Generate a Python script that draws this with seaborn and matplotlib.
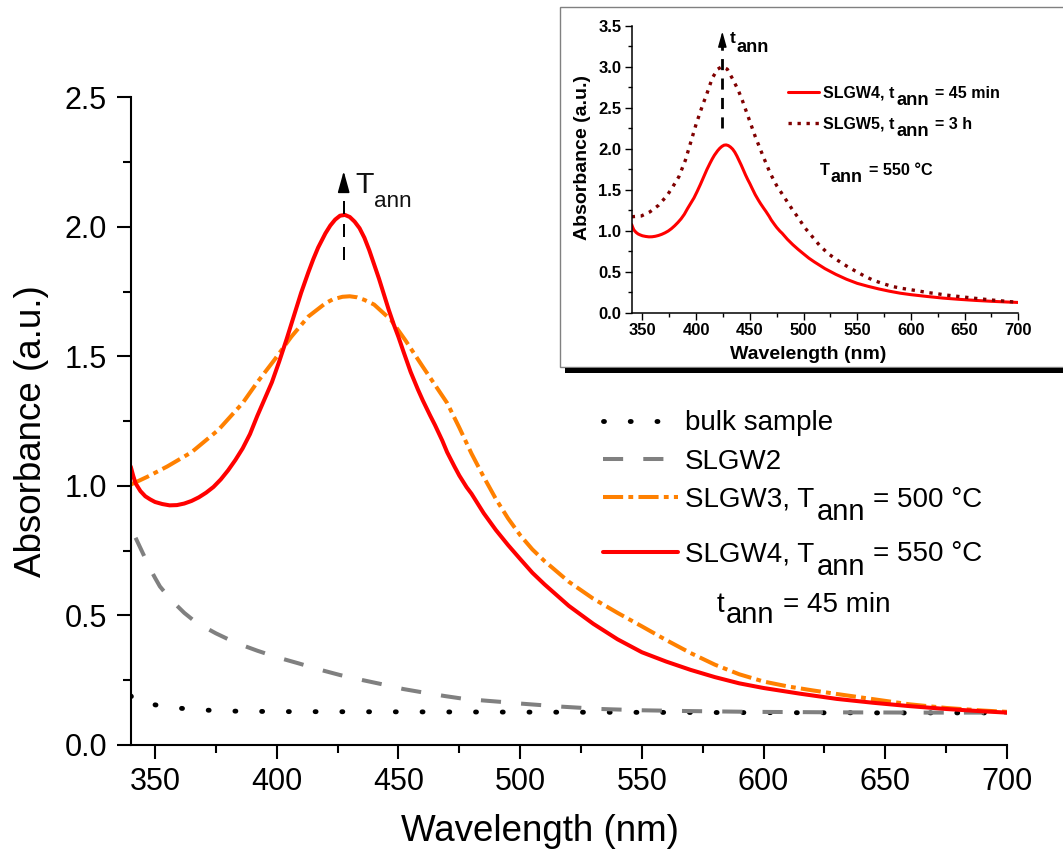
import matplotlib
matplotlib.use("Agg")
import numpy as np
import pandas as pd
import matplotlib.pyplot as plt
import seaborn as sns
from matplotlib.ticker import MultipleLocator, FormatStrFormatter
from matplotlib.patches import Rectangle
from matplotlib.transforms import IdentityTransform

# ---------------- data ----------------
bulk_x = [340, 342, 345, 350, 355, 360, 370, 380, 400, 450, 500, 550, 600, 650, 700]
bulk_y = [0.19, 0.172, 0.163, 0.155, 0.148, 0.142, 0.135, 0.131, 0.129, 0.128, 0.127, 0.126, 0.125, 0.124, 0.124]

slgw2_x = [342, 344, 346, 348, 350, 352, 355, 358, 362, 367, 375, 383, 392, 400, 409, 418, 426,
           435, 443, 452, 460, 469, 477, 486, 494, 500, 517, 533, 550, 569, 595, 631, 667, 700]
slgw2_y = [0.80, 0.76, 0.72, 0.68, 0.645, 0.612, 0.578, 0.547, 0.51, 0.472, 0.431, 0.395, 0.364,
           0.339, 0.315, 0.29, 0.27, 0.251, 0.235, 0.216, 0.203, 0.189, 0.178, 0.171, 0.165,
           0.16, 0.148, 0.139, 0.134, 0.131, 0.128, 0.126, 0.125, 0.125]

slgw3_x = [340, 347, 355, 365, 376, 386, 392, 399, 406, 413, 420, 423, 427, 430, 433, 436, 440,
           447, 453, 460, 465, 470, 475, 480, 485, 490, 495, 500, 505, 510, 520, 530, 540, 550,
           560, 570, 580, 590, 600, 610, 620, 630, 645, 660, 675, 690, 700]
slgw3_y = [1.005, 1.036, 1.075, 1.13, 1.216, 1.32, 1.40, 1.486, 1.576, 1.654, 1.705, 1.72, 1.73,
           1.732, 1.728, 1.718, 1.70, 1.64, 1.56, 1.46, 1.39, 1.32, 1.225, 1.125, 1.035, 0.95,
           0.875, 0.81, 0.755, 0.71, 0.63, 0.565, 0.51, 0.458, 0.405, 0.355, 0.31, 0.273, 0.245,
           0.226, 0.211, 0.197, 0.177, 0.157, 0.143, 0.133, 0.128]

slgw4_x = [340, 341, 342, 344, 346, 348, 350, 353, 356, 359, 362, 365, 368, 371, 374, 377, 380,
           383, 386, 389, 392, 395, 398, 401, 404, 407, 410, 413, 415, 417, 420, 422, 424, 426,
           428, 430, 432, 434, 436, 438, 440, 442, 444, 446, 448, 450, 452, 455, 458, 460, 463,
           465, 468, 470, 473, 475, 478, 480, 485, 490, 495, 500, 505, 510, 520, 530, 540, 550,
           560, 570, 580, 590, 600, 615, 630, 645, 660, 675, 690, 700]
slgw4_y = [1.075, 1.04, 1.01, 0.98, 0.96, 0.948, 0.938, 0.93, 0.925, 0.926, 0.932, 0.942, 0.956,
           0.974, 0.996, 1.025, 1.06, 1.10, 1.145, 1.20, 1.27, 1.335, 1.40, 1.48, 1.565, 1.655,
           1.745, 1.825, 1.875, 1.92, 1.975, 2.005, 2.028, 2.043, 2.046, 2.038, 2.02, 1.995,
           1.958, 1.91, 1.855, 1.80, 1.74, 1.68, 1.625, 1.575, 1.52, 1.44, 1.372, 1.33, 1.272,
           1.235, 1.175, 1.13, 1.075, 1.04, 0.995, 0.97, 0.895, 0.83, 0.772, 0.718, 0.665, 0.62,
           0.537, 0.468, 0.408, 0.358, 0.322, 0.29, 0.262, 0.238, 0.22, 0.198, 0.178, 0.163,
           0.150, 0.139, 0.130, 0.125]

slgw5_x = [340, 349, 357, 365, 373, 378, 384, 390, 395, 400, 406, 410, 415, 420, 424, 429, 434,
           439, 443, 449, 455, 462, 469, 475, 480, 485, 490, 495, 501, 508, 515, 523, 531, 540,
           548, 557, 565, 574, 582, 591, 600, 608, 616, 625, 633, 641, 650, 658, 667, 675, 683,
           692, 700]
slgw5_y = [1.17, 1.18, 1.23, 1.31, 1.43, 1.53, 1.66, 1.86, 2.08, 2.30, 2.53, 2.67, 2.86, 2.97,
           3.00, 2.97, 2.85, 2.72, 2.59, 2.37, 2.15, 1.92, 1.70, 1.55, 1.45, 1.35, 1.25, 1.16,
           1.04, 0.93, 0.82, 0.72, 0.645, 0.57, 0.51, 0.445, 0.395, 0.355, 0.322, 0.298, 0.28,
           0.263, 0.245, 0.23, 0.215, 0.203, 0.19, 0.178, 0.166, 0.155, 0.146, 0.135, 0.127]

main_xticks = [350, 400, 450, 500, 550, 600, 650, 700]

# annotation anchors (data units)
T_arrow_x, T_dash_y0, T_dash_y1, T_head_y = 427.5, 1.873, 2.14, 2.215
t_arrow_x, t_dash_y0, t_dash_y1, t_head_y = 424.4, 2.25, 3.25, 3.43

# ---------------- style ----------------
sns.set_style("ticks")
plt.rcParams["font.family"] = ["Liberation Sans", "DejaVu Sans"]
plt.rcParams["axes.edgecolor"] = "black"
plt.rcParams["xtick.color"] = "black"
plt.rcParams["ytick.color"] = "black"
plt.rcParams["text.color"] = "black"
plt.rcParams["axes.labelcolor"] = "black"

W, H = 1063, 851
fig = plt.figure(figsize=(W / 100, H / 100), dpi=100)
fig.patch.set_facecolor("white")


def fx(px):
    return px / W


def fy(py):
    return 1 - py / H


# ---------------- main axes ----------------
ax = fig.add_axes([fx(130.7), fy(745), (1007 - 130.7) / W, (745 - 97.3) / H])
ax.set_zorder(0)

sns.lineplot(x=bulk_x, y=bulk_y, ax=ax, color="black", linewidth=3.5,
             linestyle=(0, (0.2, 5.3)), dash_capstyle="round", errorbar=None, label="bulk sample")
sns.lineplot(x=slgw2_x, y=slgw2_y, ax=ax, color="#808080", linewidth=2.9,
             linestyle=(0, (5, 5)), dash_capstyle="butt", errorbar=None, label="SLGW2")
sns.lineplot(x=slgw3_x, y=slgw3_y, ax=ax, color="#FF8000", linewidth=2.9,
             linestyle=(0, (5, 1.3, 1.2, 1.3)), dash_capstyle="butt", errorbar=None, label="SLGW3")
sns.lineplot(x=slgw4_x, y=slgw4_y, ax=ax, color="#FF0000", linewidth=2.9,
             errorbar=None, label="SLGW4")

ax.set_xlim(340, 700)
ax.set_ylim(0, 2.5)
ax.set_xticks(main_xticks)
ax.xaxis.set_minor_locator(MultipleLocator(25))
ax.yaxis.set_major_locator(MultipleLocator(0.5))
ax.yaxis.set_minor_locator(MultipleLocator(0.25))
ax.yaxis.set_major_formatter(FormatStrFormatter("%.1f"))
sns.despine(ax=ax)
for s in ["left", "bottom"]:
    ax.spines[s].set_linewidth(1.5)
ax.tick_params(axis="both", which="major", direction="out", length=10, width=1.5, labelsize=22)
ax.tick_params(axis="both", which="minor", direction="out", length=5.5, width=1.5)
ax.tick_params(axis="y", which="major", pad=7)
ax.tick_params(axis="x", which="major", pad=5.5)
ax.set_xlabel("Wavelength (nm)", fontsize=26.5)
ax.set_ylabel("Absorbance (a.u.)", fontsize=26.5)
ax.xaxis.set_label_coords(0.467, -0.107)
ax.yaxis.set_label_coords(-0.0932, 0.484)

# T_ann arrow
ax.plot([T_arrow_x, T_arrow_x], [T_dash_y0, T_dash_y1], color="black", lw=1.44,
        linestyle=(0, (6.5, 5)))
ax.annotate("", xy=(T_arrow_x, T_head_y), xytext=(T_arrow_x, T_dash_y1),
            arrowprops=dict(arrowstyle="-|>,head_length=0.65,head_width=0.18",
                            color="black", lw=1.2, shrinkA=0, shrinkB=0, mutation_scale=20))

h = ax.lines[:4]
leg_kw = dict(loc="upper left", bbox_transform=fig.transFigure, frameon=False, borderpad=0,
              borderaxespad=0, handlelength=2.7, handletextpad=0.25, labelspacing=0.44,
              fontsize=20)
leg1 = ax.legend(h[:3], ["bulk sample", "SLGW2", "SLGW3, T"], bbox_to_anchor=(fx(603), fy(410.4)),
                 **leg_kw)
ax.add_artist(leg1)
leg2 = ax.legend([h[3]], ["SLGW4, T"], bbox_to_anchor=(fx(603), fy(541.4)), **leg_kw)

# ---------------- inset frame ----------------
fig.add_artist(Rectangle((fx(560), fy(367)), (1070 - 560) / W, (367 - 7.3) / H,
                         transform=fig.transFigure, facecolor="white", edgecolor="#808080",
                         lw=1.0, zorder=1))
fig.add_artist(Rectangle((fx(565), fy(372.5)), (1070 - 565) / W, 5 / H,
                         transform=fig.transFigure, facecolor="black", edgecolor="none", zorder=1))

# ---------------- inset axes ----------------
axins = fig.add_axes([fx(631.7), fy(312.7), 386.6 / W, 287 / H])
axins.set_zorder(2)
axins.set_facecolor("none")
sns.lineplot(x=slgw4_x, y=slgw4_y, ax=axins, color="#FF0000", linewidth=2.2, errorbar=None,
             label="SLGW4")
sns.lineplot(x=slgw5_x, y=slgw5_y, ax=axins, color="#800000", linewidth=2.4,
             linestyle=(0, (1, 1.7)), dash_capstyle="butt", errorbar=None, label="SLGW5")
axins.set_xlim(340, 700)
axins.set_ylim(0, 3.5)
axins.set_xticks(main_xticks)
axins.xaxis.set_minor_locator(MultipleLocator(25))
axins.yaxis.set_major_locator(MultipleLocator(0.5))
axins.yaxis.set_minor_locator(MultipleLocator(0.25))
axins.yaxis.set_major_formatter(FormatStrFormatter("%.1f"))
sns.despine(ax=axins)
for s in ["left", "bottom"]:
    axins.spines[s].set_linewidth(1.1)
axins.tick_params(axis="both", which="major", direction="out", length=5, width=1.0,
                  labelsize=12, pad=2.5)
axins.tick_params(axis="both", which="minor", direction="out", length=3, width=1.0)
for lab in axins.get_xticklabels() + axins.get_yticklabels():
    lab.set_fontweight("bold")
axins.set_xlabel("Wavelength (nm)", fontsize=14, fontweight="bold")
axins.set_ylabel("Absorbance (a.u.)", fontsize=14, fontweight="bold")
axins.xaxis.set_label_coords(0.456, -0.117)
axins.yaxis.set_label_coords(-0.105, 0.5425)

axins.plot([t_arrow_x, t_arrow_x], [t_dash_y0, t_dash_y1], color="black", lw=2.0,
           linestyle=(0, (4, 3)))
axins.annotate("", xy=(t_arrow_x, t_head_y), xytext=(t_arrow_x, t_dash_y1),
               arrowprops=dict(arrowstyle="-|>,head_length=0.47,head_width=0.13",
                               color="black", lw=1.0, shrinkA=0, shrinkB=0, mutation_scale=20))

hin = axins.lines[:2]
legin = axins.legend(hin, ["SLGW4, t", "SLGW5, t"], loc="upper left",
                     bbox_to_anchor=(fx(788.3), fy(85.6)), bbox_transform=fig.transFigure,
                     frameon=False, borderpad=0, borderaxespad=0, handlelength=1.94,
                     handletextpad=0.25, labelspacing=1.0,
                     prop={"size": 11.5, "weight": "bold"})

# ---------------- rich text (large, lowered subscripts) ----------------
fig.canvas.draw()
r = fig.canvas.get_renderer()
PX = 100 / 72.0


def rich(x, y, parts, size, weight="normal", color="black"):
    for s, scale, drop, gap in parts:
        x += gap * size * PX
        t = fig.text(x, y - drop * size * PX, s, transform=IdentityTransform(),
                     fontsize=size * scale, fontweight=weight, color=color,
                     ha="left", va="baseline", zorder=5)
        x = t.get_window_extent(r).x1
    return x


def after(t):
    bb = t.get_window_extent(r)
    d = r.get_text_width_height_descent("lp", t.get_fontproperties(), ismath=False)[2]
    return bb.x1, bb.y0 + d


x, y = after(leg1.get_texts()[2])
rich(x, y, [("ann", 1.05, 0.49, 0.08), ("= 500 °C", 1.0, 0.0, 0.28)], 20)
x, y = after(leg2.get_texts()[0])
rich(x, y, [("ann", 1.05, 0.49, 0.08), ("= 550 °C", 1.0, 0.0, 0.28)], 20)
rich(717, H - 611.7, [("t", 1.0, 0.0, 0.0), ("ann", 1.05, 0.42, 0.05), ("= 45 min", 1.0, 0.0, 0.3)], 20)
rich(355, H - 193.3, [("T", 1.0, 0.0, 0.0), ("ann", 0.74, 0.44, 0.02)], 21.8, color="#111111")

for tt, suffix in zip(legin.get_texts(), ["= 45 min", "= 3 h"]):
    x, y = after(tt)
    rich(x, y, [("ann", 1.15, 0.48, 0.1), (suffix, 1.0, 0.0, 0.4)], 11.5, weight="bold")
rich(820, H - 175, [("T", 1.0, 0.0, 0.0), ("ann", 1.1, 0.41, 0.05), ("= 550 °C", 1.0, 0.0, 0.4)],
     11.7, weight="bold")
rich(729.3, H - 43.3, [("t", 1.0, 0.0, 0.0), ("ann", 1.05, 0.5, 0.05)], 12.5, weight="bold")

fig.savefig("out.png", dpi=100, facecolor="white")
